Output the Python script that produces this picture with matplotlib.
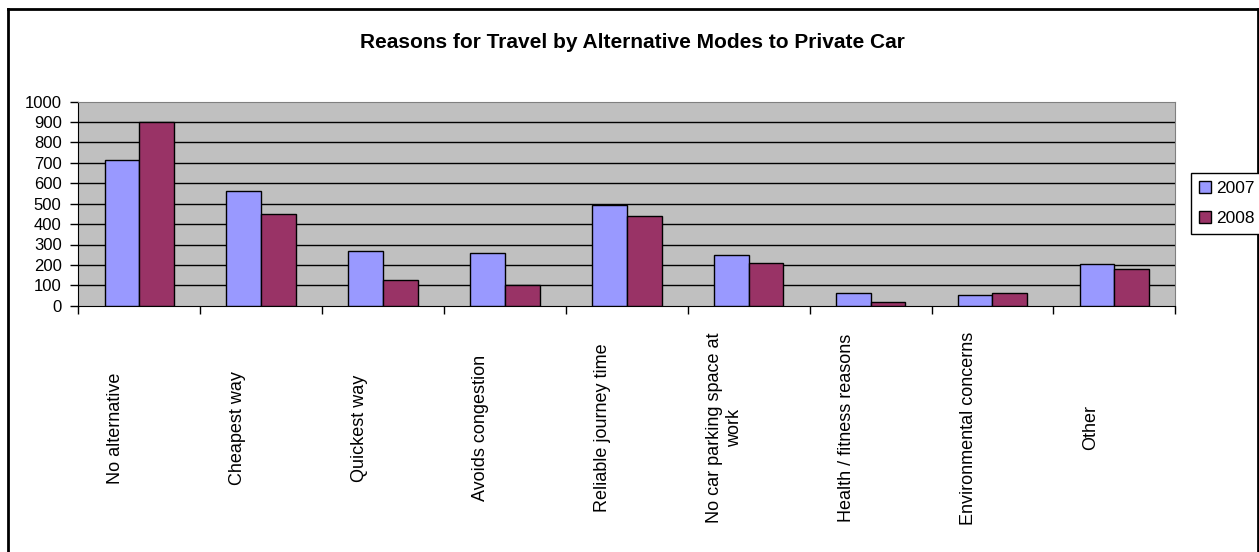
import matplotlib
matplotlib.use("Agg")
import numpy as np
import matplotlib.pyplot as plt
import matplotlib.transforms as mtransforms
from matplotlib.patches import Patch
from matplotlib.lines import Line2D

plt.rcParams['font.family'] = ['Liberation Sans', 'DejaVu Sans']

reasons = ["No alternative", "Cheapest way", "Quickest way", "Avoids congestion",
           "Reliable journey time", "No car parking space at\nwork",
           "Health / fitness reasons", "Environmental concerns", "Other"]
y2007 = [714, 562, 267, 258, 492, 247, 61, 52, 206]
y2008 = [899, 451, 127, 101, 438, 211, 18, 61, 178]
yticks = list(range(0, 1001, 100))

W, H, DPI = 1259, 552, 100
fig = plt.figure(figsize=(W / DPI, H / DPI), dpi=DPI)

# chart area border
for xs, ys in [((7.5, 7.5), (0, H - 9)), ((7.5, 1258), (H - 9, H - 9)), ((1258, 1258), (H - 9, 0))]:
    fig.add_artist(Line2D([x / W for x in xs], [y / H for y in ys], color='black', lw=2,
                          transform=fig.transFigure))

left, right, top, bottom = 78.3, 1175.3, 101.7, 305.7
ax = fig.add_axes([left / W, (H - bottom) / H, (right - left) / W, (bottom - top) / H])
ax.set_facecolor('#C0C0C0')

n = len(reasons)
x = np.arange(n) + 0.5
bw = 0.285
ax.bar(x - bw / 2, y2007, bw, color='#9999FF', edgecolor='black', lw=1, zorder=3, label='2007')
ax.bar(x + bw / 2, y2008, bw, color='#993366', edgecolor='black', lw=1, zorder=3, label='2008')

ax.set_xlim(0, n)
ax.set_ylim(0, 1000)
ax.set_yticks(yticks)
ax.tick_params(axis='y', labelsize=12, length=6, pad=6, width=1)
for yv in yticks[1:-1]:
    ax.axhline(yv, color='black', lw=1, zorder=1)

ax.set_xticks(np.arange(n + 1))
ax.set_xticklabels([])
ax.tick_params(axis='x', length=6, width=1, color='black')

ax.spines['top'].set_color('#808080')
ax.spines['right'].set_color('#808080')
ax.spines['left'].set_color('black')
ax.spines['bottom'].set_color('black')

# rotated category labels, shifted left of the group centre
trans = mtransforms.blended_transform_factory(ax.transData, fig.transFigure) + \
    mtransforms.ScaledTranslation(-24 / DPI, 0, fig.dpi_scale_trans)
for xi, lab in zip(x, reasons):
    ax.text(xi, (H - 428) / H, lab, rotation=90, ha='center', va='center',
            multialignment='center', fontsize=13, transform=trans)

fig.text(632 / W, (H - 42) / H, "Reasons for Travel by Alternative Modes to Private Car",
         ha='center', va='center', fontsize=15, fontweight='bold')

handles = [Patch(facecolor='#9999FF', edgecolor='black'),
           Patch(facecolor='#993366', edgecolor='black')]
leg = fig.legend(handles, ['2007', '2008'], loc='center left',
                 bbox_to_anchor=(1190.7 / W, (H - 203.3) / H), fontsize=12.5,
                 fancybox=False, edgecolor='black', framealpha=1,
                 handlelength=0.7, handleheight=0.7, handletextpad=0.3,
                 borderpad=0.45, labelspacing=0.85, borderaxespad=0)
leg.get_frame().set_linewidth(1)

fig.savefig("out.png", dpi=DPI)
